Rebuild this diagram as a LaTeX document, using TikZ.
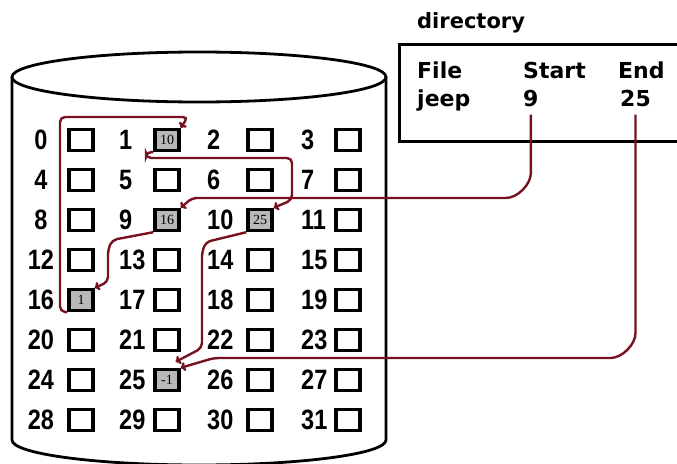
\documentclass[tikz,border=0pt]{standalone}
\usepackage{fontspec}
\setmainfont{Liberation Sans}
\newfontfamily\dirfont{DejaVu Sans}
\newfontfamily\tinyserif{Liberation Serif}
\usetikzlibrary{arrows.meta}
\definecolor{chain}{RGB}{120,18,32}
\definecolor{usedgray}{RGB}{185,185,185}
\newcommand\cellnum[1]{\scalebox{0.84}[1]{\bfseries #1}}
\begin{document}
\begin{tikzpicture}[x=1pt,y=-1pt,
  cell/.style={draw=black,line width=3.4pt,minimum width=24pt,minimum height=21pt,inner sep=0pt},
  usedcell/.style={cell,fill=usedgray,font=\tinyserif\fontsize{14}{14}\selectfont},
  lab/.style={font=\fontsize{28}{28}\selectfont,inner sep=0pt},
  dirtext/.style={font=\dirfont\bfseries\fontsize{22}{22}\selectfont,inner sep=0pt,anchor=base west},
  link/.style={draw=chain,line width=2.4pt,rounded corners=5pt,-{To[length=5pt,width=9pt]}}
]
\useasboundingbox[fill=white] (0,0) rectangle (677,463);

% cylinder
\draw[line width=2.8pt,fill=white] (12,77) -- (12,440)
  arc[start angle=180,end angle=360,x radius=187pt,y radius=25pt] -- (386,77);
\draw[line width=2.8pt,fill=white] (199,77) ellipse [x radius=187pt,y radius=25pt];

% grid of blocks
\foreach \i in {0,...,31}{
  \pgfmathtruncatemacro\c{mod(\i,4)}
  \pgfmathtruncatemacro\r{int(\i/4)}
  \pgfmathsetmacro\y{140+40*\r}
  \pgfmathsetmacro\bx{{81,167,260,348}[\c]}
  \pgfmathsetmacro\lx{{41,119,207,301}[\c]}
  \node[cell] (b\i) at (\bx,\y) {};
  \ifnum\c=0
    \node[lab,anchor=center] (l\i) at (\lx,\y) {\cellnum{\i}};
  \else
    \node[lab,anchor=west] (l\i) at (\lx,\y) {\cellnum{\i}};
  \fi
}
\foreach \k/\v in {1/10,9/16,10/25,16/1,25/-1}
  \node[usedcell] (u\k) at (b\k) {\v};

% directory
\node[dirtext,font=\dirfont\bfseries\fontsize{21}{21}\selectfont] (dirtitle) at (417,28) {directory};
\node[draw=black,line width=2.8pt,anchor=north west,minimum width=310pt,minimum height=97pt,inner sep=0pt] (dir) at (398,43) {};
\node[dirtext] (hfile) at (417,78) {File};
\node[dirtext] (hstart) at (523,78) {Start};
\node[dirtext] (hend) at (618,78) {End};
\node[dirtext] (fjeep) at (417,106) {jeep};
\node[dirtext] (s9) at (523,106) {9};
\node[dirtext] (e25) at (620,106) {25};

% chain links
\draw[link] ([yshift=-8pt]s9.south) -- (s9.south |- 0,168)
  arc[start angle=0,end angle=-90,radius=30pt] -- (192,198) -- (b9.north east);
\draw[link] ([yshift=-8pt]e25.south) -- (e25.south |- 0,328)
  arc[start angle=0,end angle=-90,radius=30pt] -- (214,358) -- (b25.north east);
\draw[link] (b9.south west) -- (112,240) -- (108,250) -- (108,282) -- (b16.north east);
\draw[link] (b16.south west) -- (60,311.5) -- (60,117) -- (188,117) -- (b1.north east);
\draw[link] (b1.south west) -- (146,152) -- (146,158) -- (292,158) -- (292,200) -- (b10.north east);
\draw[link] (b10.south west) -- (206,242) -- (202,252) -- (202,348) -- ([xshift=-5pt,yshift=6pt]b25.north east);
\end{tikzpicture}
\end{document}
